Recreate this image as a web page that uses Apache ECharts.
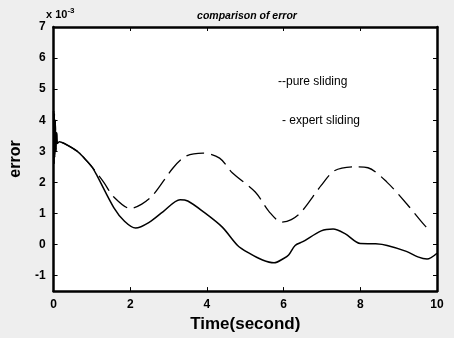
<!DOCTYPE html>
<html>
<head>
<meta charset="UTF-8">
<title>comparison of error</title>
<script src="https://cdn.jsdelivr.net/npm/echarts@6/dist/echarts.min.js"></script>
<style>
    *{padding:0;margin:0;}
    body{background:#eeeeee;}
    #main{width:454px;height:338px;}
</style>
</head>
<body>
<div id="main"></div>
<script>
// values in units of 10^-3
var startPart=[[0,4.3],[0.01,2.6],[0.02,4.2],[0.03,2.8],[0.045,4.0],[0.06,3.0],[0.08,3.6],[0.1,3.25],[0.15,3.31],[0.28,3.25],[0.62,3.0],[0.8,2.78],[1.0,2.5]]
var expertData=[[1.14,2.2],[1.57,1.19],[1.85,0.75],[2.14,0.53],[2.5,0.72],[2.86,1.06],[3.3,1.44],[3.5,1.4],[3.9,1.06],[4.4,0.56],[4.8,-0.03],[5.1,-0.28],[5.45,-0.5],[5.75,-0.59],[6.0,-0.45],[6.13,-0.34],[6.3,-0.03],[6.5,0.09],[6.98,0.44],[7.29,0.5],[7.6,0.35],[8.0,0.03],[8.4,0.02],[8.7,-0.03],[9.2,-0.22],[9.5,-0.4],[9.74,-0.47],[10,-0.28]]
var pureData=[[1.31,2.0],[1.57,1.53],[2.0,1.16],[2.3,1.3],[2.6,1.6],[3.12,2.47],[3.45,2.84],[3.9,2.94],[4.33,2.78],[4.66,2.31],[5.26,1.69],[5.62,1.06],[5.95,0.72],[6.2,0.8],[6.47,1.06],[6.98,1.9],[7.32,2.37],[7.84,2.5],[8.2,2.47],[8.7,2.0],[9.23,1.28],[9.69,0.6],[9.85,0.45]]
var yTicks=[-1,0,1,2,3,4,5,6,7]
var xTicks=[0,2,4,6,8,10]

var myCharts=echarts.init(document.getElementById("main"))
var axisLine={show:true,onZero:false,lineStyle:{color:"#000",width:2.5}}
var tick={show:true,inside:true,length:4,lineStyle:{color:"#000",width:1}}
var lbl={color:"#000",fontWeight:"bold",fontSize:12,fontFamily:"Liberation Sans"}
var option={
    backgroundColor:"#eeeeee",
    animation:false,
    grid:{left:49,right:17,top:27,bottom:39,show:true,backgroundColor:"#fff",borderWidth:0},
    title:{
        text:"comparison of error",
        left:242,top:6,textAlign:"center",
        textStyle:{fontSize:10.5,fontStyle:"italic",fontWeight:"bold",color:"#000",fontFamily:"Liberation Sans"}
    },
    graphic:[
        {type:"text",left:46,top:7,style:{text:"x 10{s|-3}",rich:{s:{fontSize:8,fontWeight:"bold",verticalAlign:"top",padding:[0,0,8,0]}},fontSize:11,fontWeight:"bold",fill:"#000",fontFamily:"Liberation Sans"}},
        {type:"text",left:278,top:76,style:{text:"--pure sliding",fontSize:12,fill:"#000",fontFamily:"Liberation Sans"}},
        {type:"text",left:282,top:115,style:{text:"- expert sliding",fontSize:12,fill:"#000",fontFamily:"Liberation Sans"}}
    ],
    xAxis:[
        {type:"value",min:0,max:10,interval:2,position:"bottom",
         name:"Time(second)",nameLocation:"middle",nameGap:24,
         nameTextStyle:{fontSize:17,fontWeight:"bold",color:"#000",fontFamily:"Liberation Sans"},
         axisLine:axisLine,axisTick:tick,axisLabel:Object.assign({margin:8},lbl),splitLine:{show:false}},
        {type:"value",min:0,max:10,interval:2,position:"top",
         axisLine:axisLine,axisTick:tick,axisLabel:{show:false},splitLine:{show:false}}
    ],
    yAxis:[
        {type:"value",min:-1.5,max:7,position:"left",
         name:"error",nameLocation:"middle",nameGap:21,
         nameTextStyle:{fontSize:16,fontWeight:"bold",color:"#000",fontFamily:"Liberation Sans"},
         axisLine:axisLine,
         axisTick:Object.assign({customValues:yTicks},tick),
         axisLabel:Object.assign({customValues:yTicks,margin:8},lbl),
         splitLine:{show:false}},
        {type:"value",min:-1.5,max:7,position:"right",
         axisLine:axisLine,
         axisTick:Object.assign({customValues:yTicks},tick),
         axisLabel:{show:false},splitLine:{show:false}}
    ],
    series:[
        {
            name:"pure sliding",
            type:"line",
            data:startPart.concat(pureData),
            showSymbol:false,
            smooth:0.3,
            lineStyle:{color:"#000",width:1.3,type:[18,7]}
        },
        {
            name:"expert sliding",
            type:"line",
            data:startPart.concat(expertData),
            showSymbol:false,
            smooth:0.3,
            lineStyle:{color:"#000",width:1.5}
        }
    ]
}
myCharts.setOption(option)
window.onresize=myCharts.resize
</script>
</body>
</html>
